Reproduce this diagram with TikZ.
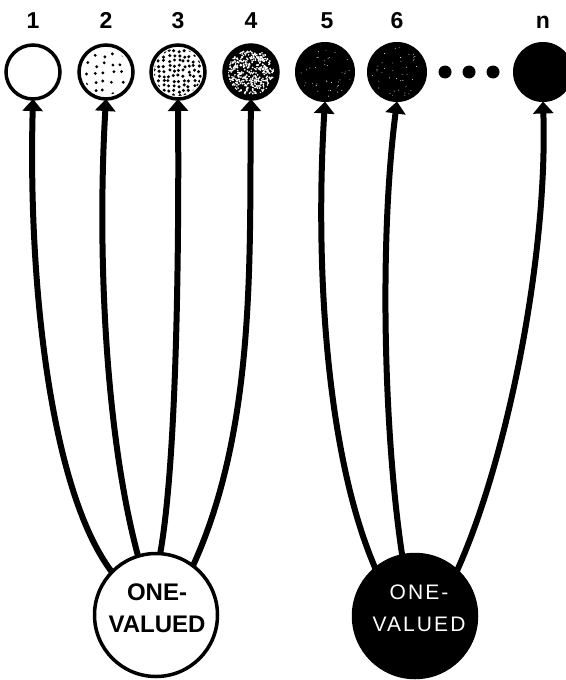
\documentclass[tikz,border=0pt]{standalone}
\usepackage{fontspec}
\setmainfont{Liberation Sans}
\usetikzlibrary{arrows.meta,backgrounds}
\begin{document}
\begin{tikzpicture}[x=1pt,y=-1pt,
  topc/.style={circle,draw=black,fill=white,line width=3.5pt,minimum size=54pt,inner sep=0pt,outer sep=0pt},
  topd/.style={circle,draw=black,fill=black,line width=1pt,minimum size=59pt,inner sep=0pt,outer sep=0pt},
  num/.style={font=\bfseries\fontsize{23}{23}\selectfont,anchor=base,inner sep=0pt},
  link/.style={line width=6pt,-{Triangle[width=20pt,length=12pt]},shorten <=-8pt},
  bigc/.style={circle,draw=black,line width=3.5pt,minimum size=123pt,inner sep=0pt,outer sep=0pt},
  elli/.style={circle,fill=black,minimum size=13pt,inner sep=0pt},
]
\useasboundingbox (0,0) rectangle (565,680);
% top circles
\node[topc] (c1) at (33,72) {};
\node[topc] (c2) at (106,72) {};
\node[topc] (c3) at (178,72) {};
\node[topc,fill=black] (c4) at (251,72) {};
\node[topd] (c5) at (325,72) {};
\node[topd] (c6) at (397,72) {};
\node[topd] (cn) at (543,72) {};
% textures
\pgfmathsetseed{7}
\begin{scope}
\clip (c2.center) circle[radius=23pt];
\foreach \gx in {-20,-11,...,25}{
  \foreach \gy in {-20,-11,...,25}{
    \pgfmathsetmacro\jx{\gx+2.5*rand}
    \pgfmathsetmacro\jy{\gy+2.5*rand}
    \fill[black] (c2.center) ++(\jx pt,\jy pt) circle[radius=1.6pt];
  }
}
\end{scope}
\begin{scope}
\clip (c3.center) circle[radius=24pt];
\foreach \gx in {-24,-19,...,25}{
  \foreach \gy in {-24,-19,...,25}{
    \pgfmathsetmacro\jx{\gx+1.2*rand}
    \pgfmathsetmacro\jy{\gy+1.2*rand}
    \fill[black] (c3.center) ++(\jx pt,\jy pt) circle[radius=1.7pt];
  }
}
\end{scope}
\begin{scope}
\clip (c4.center) circle[radius=23pt];
\foreach \i in {1,...,380}{
  \pgfmathsetmacro\rr{23*sqrt(rnd)}
  \pgfmathsetmacro\aa{360*rnd}
  \fill[white] (c4.center) ++(\aa:\rr pt) circle[radius=0.95pt];
}
\end{scope}
\foreach \c in {c5,c6}{
  \foreach \i in {1,...,40}{
    \pgfmathsetmacro\rr{26*sqrt(rnd)}
    \pgfmathsetmacro\aa{360*rnd}
    \fill[white] (\c.center) ++(\aa:\rr pt) circle[radius=0.45pt];
  }
}
% ellipsis
\node[elli] (d1) at (445,72) {};
\node[elli] (d2) at (469,72) {};
\node[elli] (d3) at (493,72) {};
% numbers
\node[num] (n1) at (33,28) {1};
\node[num] (n2) at (106,28) {2};
\node[num] (n3) at (178,28) {3};
\node[num] (n4) at (251,28) {4};
\node[num] (n5) at (327,28) {5};
\node[num] (n6) at (397,28) {6};
\node[num] (nn) at (543,28) {n};
% bottom circles
\node[bigc,fill=white] (L) at (156,615) {};
\node[bigc,fill=black] (R) at (415,616) {};
\node[font=\bfseries\fontsize{24}{24}\selectfont,anchor=base,inner sep=0pt] (l1) at (157,600) {ONE-};
\node[font=\bfseries\fontsize{24}{24}\selectfont,anchor=base,inner sep=0pt] (l2) at (157,632) {VALUED};
\node[text=white,font=\fontsize{21}{21}\selectfont\addfontfeature{LetterSpace=10},anchor=base,inner sep=0pt] (r1) at (419,599) {ONE-};
\node[text=white,font=\fontsize{21}{21}\selectfont\addfontfeature{LetterSpace=10},anchor=base,inner sep=0pt] (r2) at (419,631) {VALUED};
% connectors
\begin{pgfonlayer}{background}
\draw[link] (L.136) .. controls (50,500) and (28,280) .. (c1.south);
\draw[link] (L.107) .. controls (105,440) and (97,250) .. (c2.south);
\draw[link] (L.86) .. controls (177,470) and (179,250) .. (c3.south);
\draw[link] (L.53) .. controls (258,430) and (249,250) .. (c4.south);
\draw[link] (R.130) .. controls (325,460) and (315,260) .. (c5.south);
\draw[link] (R.102) .. controls (385,450) and (378,250) .. (c6.south);
\draw[link] (R.47) .. controls (505,470) and (548,260) .. (cn.south);
\end{pgfonlayer}
\end{tikzpicture}
\end{document}
